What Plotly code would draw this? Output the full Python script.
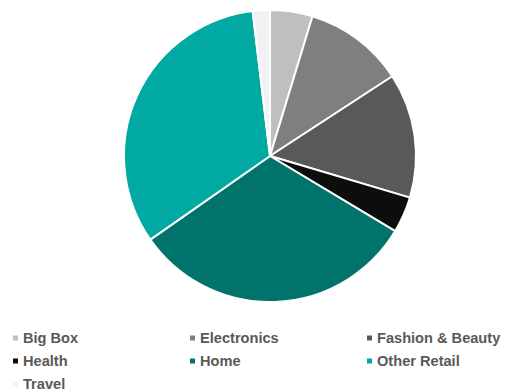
import plotly.graph_objects as go

categories = ["Big Box", "Electronics", "Fashion & Beauty", "Health", "Home", "Other Retail", "Travel"]
values = [4.7, 11.1, 13.8, 4.0, 31.7, 32.8, 1.9]
colors = ["#bfbfbf", "#7f7f7f", "#595959", "#0d0d0d", "#00736a", "#00aaa2", "#f2f2f2"]

W, H = 507, 389
cx, cy, r = 270, 156, 146

fig = go.Figure(go.Pie(
    labels=categories, values=values, sort=False, direction="clockwise", rotation=0,
    marker=dict(colors=colors, line=dict(color="white", width=2)),
    textinfo="none", hoverinfo="label+percent", showlegend=False,
    domain=dict(x=[(cx - r) / W, (cx + r) / W], y=[1 - (cy + r) / H, 1 - (cy - r) / H]),
))

shapes, annotations = [], []
for i, (cat, col) in enumerate(zip(categories, colors)):
    px = 13 + 177 * (i % 3)
    py = 338 + 23 * (i // 3)
    shapes.append(dict(type="rect", xref="paper", yref="paper",
                       x0=px / W, x1=(px + 5) / W, y0=1 - (py + 2.5) / H, y1=1 - (py - 2.5) / H,
                       fillcolor=col, line=dict(width=0)))
    annotations.append(dict(xref="paper", yref="paper", x=(px + 8) / W, y=1 - py / H,
                            xanchor="left", yanchor="middle", showarrow=False,
                            text=cat,
                            font=dict(family="Arial", size=14.6, weight=700, color="#595959")))

fig.update_layout(width=W, height=H, margin=dict(l=0, r=0, t=0, b=0),
                  paper_bgcolor="white", plot_bgcolor="white",
                  shapes=shapes, annotations=annotations)
fig.write_html("out.html")
